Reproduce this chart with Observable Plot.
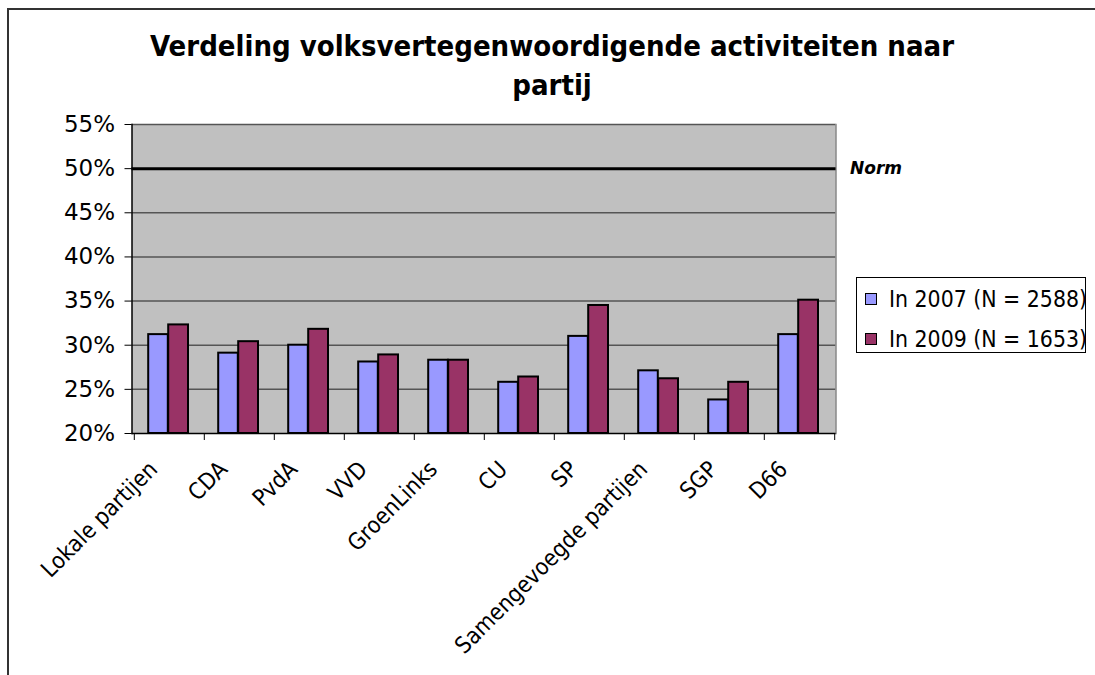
<!DOCTYPE html>
<html><head><meta charset="utf-8">
<script src="https://cdn.jsdelivr.net/npm/d3@7"></script>
<script src="https://cdn.jsdelivr.net/npm/@observablehq/plot@0.6"></script>
<style>
body{margin:0;background:#fff;}
#wrap{position:relative;width:1095px;height:675px;overflow:hidden;font-family:"DejaVu Sans Condensed","DejaVu Sans",sans-serif;color:#000;}
#border{position:absolute;left:7px;top:8px;width:1200px;height:800px;border-top:2px solid #333;border-left:2px solid #333;}
#title{position:absolute;left:9px;width:1086px;top:27px;text-align:center;font-weight:bold;font-size:29px;line-height:39px;}
#chart{position:absolute;left:0;top:0;}
#legend{position:absolute;left:856px;top:277px;width:230px;height:76px;border:1px solid #000;background:#fff;box-sizing:border-box;}
.item{position:absolute;left:8px;height:30px;display:flex;align-items:center;font-size:22.8px;white-space:nowrap;}
.sw{width:10px;height:10px;border:1px solid #000;margin-right:12px;}
</style>
</head><body>
<div id="wrap">
  <div id="border"></div>
  <div id="chart"></div>
  <div id="title">Verdeling volksvertegenwoordigende activiteiten naar<br>partij</div>
  <div id="legend"></div>
</div>
<script>
const parties = ["Lokale partijen","CDA","PvdA","VVD","GroenLinks","CU","SP","Samengevoegde partijen","SGP","D66"];
const values2007 = [31.2,29.1,30.0,28.1,28.3,25.8,31.0,27.1,23.8,31.2];
const values2009 = [32.3,30.4,31.8,28.9,28.3,26.4,34.5,26.2,25.8,35.1];
const yTicks = [20,25,30,35,40,45,50,55];
const normValue = 50;
const normLabel = "Norm";
const seriesNames = ["In 2007 (N = 2588)","In 2009 (N = 1653)"];
const seriesColors = ["#9999ff","#993366"];

const base = yTicks[0];
const d07 = parties.map((p,i)=>({party:p, value:values2007[i]}));
const d09 = parties.map((p,i)=>({party:p, value:values2009[i]}));

const W = 1095, H = 675, mL = 131.5, mR = 259.5, mT = 124, mB = 242;
const bw = (W - mL - mR) / parties.length;
const plotH = H - mT - mB;

const chart = Plot.plot({
  width: W, height: H,
  marginLeft: mL, marginRight: mR, marginTop: mT, marginBottom: mB,
  style: {fontFamily: '"DejaVu Sans",sans-serif', fontSize: "22px", color: "#000", background: "transparent", overflow: "visible"},
  x: {domain: parties, padding: 0, axis: null},
  y: {domain: [yTicks[0], yTicks[yTicks.length-1]], axis: null},
  marks: [
    Plot.frame({fill: "#c0c0c0", stroke: null}),
    Plot.ruleY(yTicks.slice(1), {stroke: "#555", strokeWidth: 1.5}),
    Plot.frame({anchor: "right", stroke: "#888", strokeWidth: 1.5}),
    Plot.barY(d07, {x: "party", y1: () => base, y2: "value", fill: seriesColors[0], stroke: "#000", strokeWidth: 2, insetLeft: 14.2, insetRight: bw - 34.2}),
    Plot.barY(d09, {x: "party", y1: () => base, y2: "value", fill: seriesColors[1], stroke: "#000", strokeWidth: 2, insetLeft: 34.2, insetRight: bw - 54.4}),
    Plot.ruleY([normValue], {stroke: "#000", strokeWidth: 3}),
    Plot.text([normValue], {y: d => d, text: () => normLabel, frameAnchor: "right", textAnchor: "start", dx: 14, fontStyle: "italic", fontWeight: "bold", fontSize: 17}),
    Plot.frame({anchor: "left", stroke: "#000", strokeWidth: 1.5}),
    Plot.ruleY([base], {stroke: "#000", strokeWidth: 1.5}),
    Plot.ruleX(parties, {x: d => d, dx: -bw/2, insetTop: plotH, insetBottom: -7, stroke: "#000"}),
    Plot.ruleX([parties[parties.length-1]], {x: d => d, dx: bw/2, insetTop: plotH, insetBottom: -7, stroke: "#000"}),
    Plot.axisY({ticks: yTicks, tickFormat: d => d + "%", tickSize: 7, tickPadding: 10, fontSize: 23, stroke: "#000", label: null}),
    Plot.axisX({tickSize: 0, tickRotate: -45, tickPadding: 32, dx: -16, fontSize: 23, fontFamily: '"DejaVu Sans Condensed","DejaVu Sans",sans-serif', label: null})
  ]
});
document.getElementById("chart").appendChild(chart);

const leg = document.getElementById("legend");
seriesNames.forEach((n,i) => {
  const it = document.createElement("div");
  it.className = "item";
  it.style.top = (6 + i*40) + "px";
  it.innerHTML = `<span class="sw" style="background:${seriesColors[i]}"></span>${n}`;
  leg.appendChild(it);
});
</script>
</body></html>
